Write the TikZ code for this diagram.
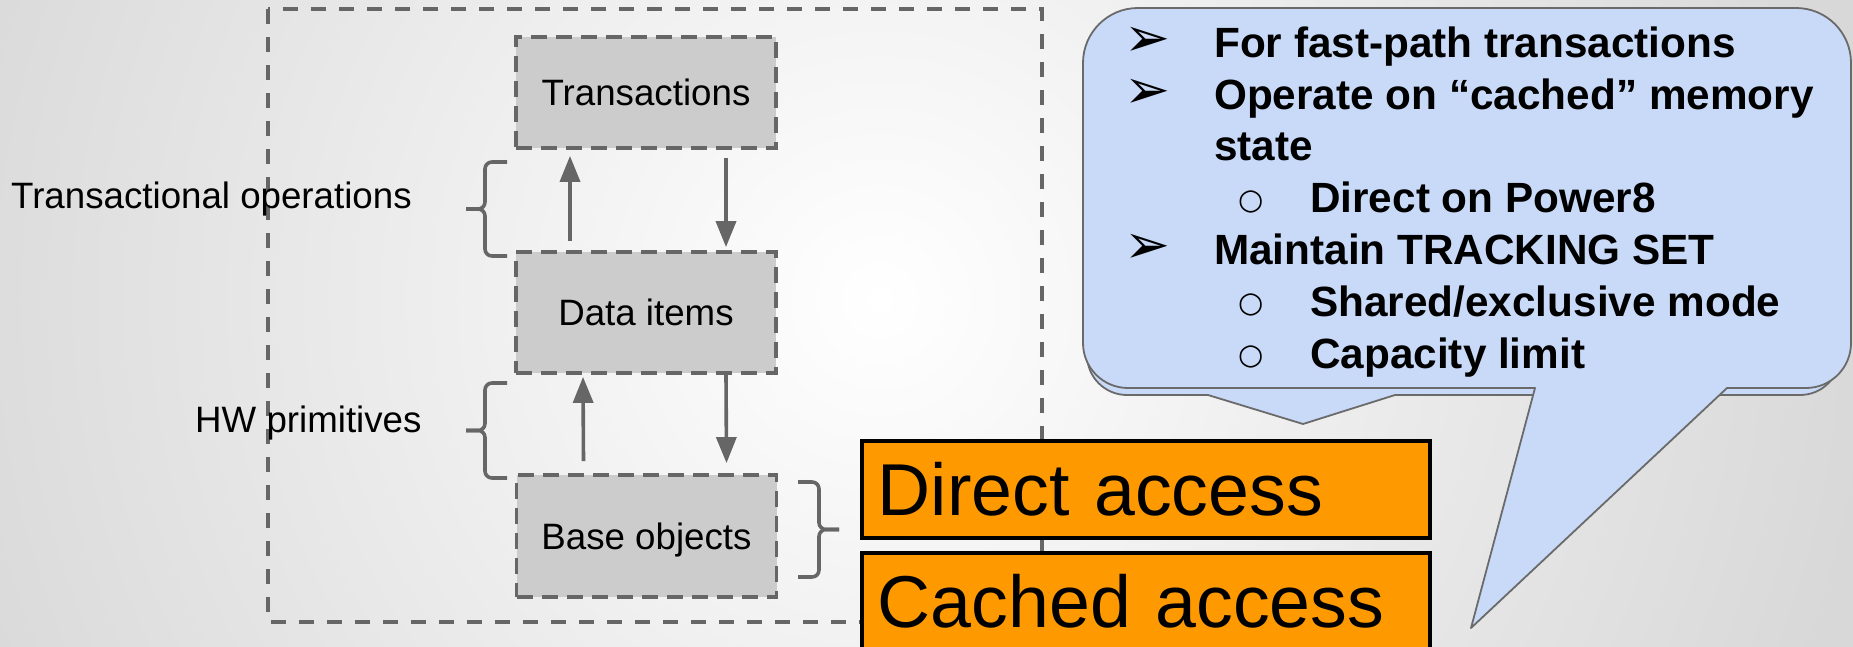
\documentclass[tikz,border=0pt]{standalone}
\usepackage{fontspec}
\setmainfont{Liberation Sans}
\newfontfamily\symfont{DejaVu Sans}
\usetikzlibrary{arrows.meta}

\definecolor{edgegray}{HTML}{666666}
\definecolor{boxgray}{HTML}{CCCCCC}
\definecolor{bgedge}{HTML}{D8D8D8}
\definecolor{callblue}{HTML}{C9DAF8}
\definecolor{callline}{HTML}{6A6A6A}
\definecolor{accorange}{HTML}{FF9900}

\begin{document}
\begin{tikzpicture}[x=1pt,y=-1pt,
  layerbox/.style={draw=edgegray, fill=boxgray, line width=3.8pt,
    dash pattern=on 16pt off 9pt, minimum width=260pt, inner sep=0pt,
    font=\fontsize{36.7}{44}\selectfont, text height=26.3pt, text depth=0pt},
  flow/.style={draw=edgegray, line width=3.6pt, -{Triangle[length=26pt,width=20pt]}},
  bracket/.style={draw=edgegray, line width=3.6pt, rounded corners=7pt},
  sidelabel/.style={anchor=base west, inner sep=0pt, font=\fontsize{36.7}{44}\selectfont},
  accessbox/.style={draw=black, fill=accorange, line width=3.5pt, anchor=north west,
    minimum width=568pt, minimum height=97pt, inner xsep=16pt, inner ysep=0pt,
    text width=536pt, align=left, font=\fontsize{73.5}{80}\selectfont,
    text height=52.6pt, text depth=0pt},
  bubble/.style={fill=callblue, draw=callline, line width=1.8pt, line join=round},
  bubbletext/.style={anchor=base west, inner sep=0pt, font=\fontsize{42.3}{50}\selectfont\bfseries},
  arrowbullet/.style={inner sep=0pt, font=\symfont\fontsize{55}{60}\selectfont},
  ringbullet/.style={inner sep=0pt, font=\symfont\fontsize{29}{34}\selectfont},
]
\useasboundingbox (0,0) rectangle (1853,647);

% soft radial background
\fill[bgedge] (0,0) rectangle (1853,647);
\begin{scope}
  \clip (0,0) rectangle (1853,647);
  \shade[inner color=white, outer color=bgedge] (880,300) circle (1000pt);
\end{scope}

% enclosing dashed frame
\draw[edgegray, line width=3.8pt, dash pattern=on 15pt off 13pt] (268,9) rectangle (1042,622);

% layers
\node[layerbox, minimum height=111pt] (trans) at (646,92.5) {Transactions};
\node[layerbox, minimum height=121pt] (data)  at (646,312.5) {Data items};
\node[layerbox, minimum height=122pt] (base)  at (646.5,536) {Base objects};

% flows between layers
\draw[flow] ([xshift=-76pt,yshift=9pt]data.north) -- ([xshift=-76pt,yshift=-6pt]trans.south);
\draw[flow] ([xshift=80pt,yshift=-8pt]trans.south) -- ([xshift=80pt,yshift=3pt]data.north);
\draw[flow] ([xshift=-63pt,yshift=12pt]base.north) -- ([xshift=-63pt,yshift=-2pt]data.south);
\draw[flow] ([xshift=80pt]data.south) -- ([xshift=80pt,yshift=10pt]base.north);

% braces
\draw[bracket] (507,162) -- (485,162) -- (485,209) -- (466,209);
\draw[bracket] (466,209) -- (485,209) -- (485,256) -- (507,256);
\draw[bracket] (507,383) -- (485,383) -- (485,430.5) -- (466,430.5);
\draw[bracket] (466,430.5) -- (485,430.5) -- (485,478) -- (507,478);
\draw[bracket] (798,482) -- (819,482) -- (819,529.5) -- (839,529.5);
\draw[bracket] (839,529.5) -- (819,529.5) -- (819,577) -- (798,577);

% side labels
\node[sidelabel] (lblops) at (11,209) {Transactional operations};
\node[sidelabel] (lblhw)  at (195,432) {HW primitives};

% access modes
\node[accessbox] (direct) at (860,439) {Direct access};
\node[accessbox] (cached) at (860,551) {Cached access};

% rear callout
\path[bubble] (1127,40) -- (1800,40) .. controls (1822.1,40) and (1840,57.9) .. (1840,80)
  -- (1840,355) .. controls (1840,377.1) and (1822.1,395) .. (1800,395)
  -- (1395,395) -- (1303,424) -- (1208,395)
  -- (1127,395) .. controls (1104.9,395) and (1087,377.1) .. (1087,355)
  -- (1087,80) .. controls (1087,57.9) and (1104.9,40) .. (1127,40) -- cycle;

% front callout
\path[bubble] (1138,8) -- (1796,8) .. controls (1826.4,8) and (1851,32.6) .. (1851,63)
  -- (1851,343) .. controls (1851,367.9) and (1830.9,388) .. (1806,388)
  -- (1727,388) -- (1471,628) -- (1535,388)
  -- (1128,388) .. controls (1103.1,388) and (1083,367.9) .. (1083,343)
  -- (1083,63) .. controls (1083,32.6) and (1107.6,8) .. (1138,8) -- cycle;

% callout text
\node[arrowbullet] (b1) at (1147.5,42) {➢};
\node[bubbletext] (t1) at (1214,58) {For fast-path transactions};
\node[arrowbullet] (b2) at (1147.5,94) {➢};
\node[bubbletext] (t2) at (1214,110) {Operate on “cached” memory};
\node[bubbletext] (t3) at (1214,161) {state};
\node[ringbullet] (b4) at (1251,202) {○};
\node[bubbletext] (t4) at (1310,213) {Direct on Power8};
\node[arrowbullet] (b5) at (1147.5,249) {➢};
\node[bubbletext] (t5) at (1214,265) {Maintain TRACKING SET};
\node[ringbullet] (b6) at (1251,305) {○};
\node[bubbletext] (t6) at (1310,316) {Shared/exclusive mode};
\node[ringbullet] (b7) at (1251,357) {○};
\node[bubbletext] (t7) at (1310,368) {Capacity limit};
\end{tikzpicture}
\end{document}
